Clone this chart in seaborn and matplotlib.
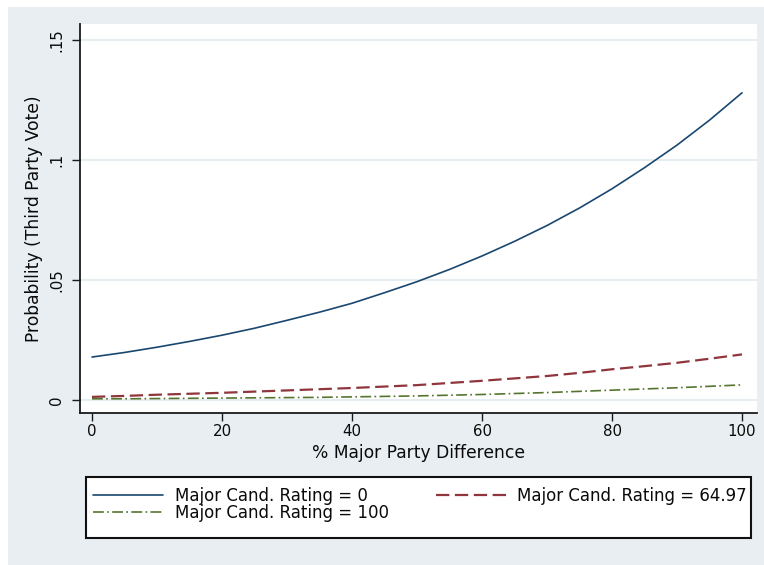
import matplotlib
matplotlib.use("Agg")
import matplotlib.pyplot as plt
from matplotlib.patches import Rectangle
import numpy as np
import pandas as pd
import seaborn as sns

# ---- data ----
major_party_diff = [0, 5, 10, 15, 20, 25, 30, 35, 40, 45, 50,
                    55, 60, 65, 70, 75, 80, 85, 90, 95, 100]
prob_rating_0 = [0.0179, 0.0198, 0.0220, 0.0244, 0.0270, 0.0299, 0.0332,
                 0.0366, 0.0403, 0.0447, 0.0493, 0.0544, 0.0600, 0.0661,
                 0.0727, 0.0800, 0.0880, 0.0968, 0.1062, 0.1166, 0.1280]
prob_rating_6497 = [0.0013, 0.0017, 0.0022, 0.0026, 0.0030, 0.0035, 0.0040,
                    0.0045, 0.0050, 0.0056, 0.0062, 0.0071, 0.0080, 0.0090,
                    0.0100, 0.0113, 0.0128, 0.0141, 0.0155, 0.0172, 0.0190]
prob_rating_100 = [0.0005, 0.0005, 0.0006, 0.0007, 0.0008, 0.0009, 0.0010,
                   0.0011, 0.0013, 0.0015, 0.0017, 0.0020, 0.0023, 0.0027,
                   0.0031, 0.0036, 0.0041, 0.0046, 0.0051, 0.0057, 0.0063]
series_labels = ["Major Cand. Rating = 0",
                 "Major Cand. Rating = 64.97",
                 "Major Cand. Rating = 100"]
x_ticks = [0, 20, 40, 60, 80, 100]
x_tick_labels = ["0", "20", "40", "60", "80", "100"]
y_ticks = [0, 0.05, 0.10, 0.15]
y_tick_labels = ["0", ".05", ".1", ".15"]
x_title = "% Major Party Difference"
y_title = "Probability (Third Party Vote)"

df = pd.DataFrame({
    "x": major_party_diff * 3,
    "y": prob_rating_0 + prob_rating_6497 + prob_rating_100,
    "series": [series_labels[0]] * len(major_party_diff)
              + [series_labels[1]] * len(major_party_diff)
              + [series_labels[2]] * len(major_party_diff),
})

# ---- style ----
sns.set_theme(style="white")
plt.rcParams["font.family"] = ["DejaVu Sans"]

W, H = 764, 565
fig = plt.figure(figsize=(W / 100, H / 100), dpi=100, facecolor="white")
bg = "#e8eef1"
fig.patches.append(Rectangle((8 / W, 0), 1 - 8 / W, 1 - 7 / H,
                             transform=fig.transFigure, facecolor=bg,
                             edgecolor="none", zorder=-10))

def fx(px):
    return px / W

def fy(py):
    return 1 - py / H

ax_l, ax_r, ax_t, ax_b = 80, 757, 24, 413
ax = fig.add_axes([fx(ax_l), fy(ax_b), (ax_r - ax_l) / W, (ax_b - ax_t) / H])
ax.set_facecolor("white")

colors = ["#1a476f", "#90353b", "#55752f"]
widths = [1.2, 1.6, 1.2]
dash_patterns = [None, [6, 2.5], [6.5, 2, 1, 2]]

for lab, col, lw, dp in zip(series_labels, colors, widths, dash_patterns):
    sub = df[df["series"] == lab]
    sns.lineplot(data=sub, x="x", y="y", color=col, linewidth=lw,
                 label=lab, ax=ax, zorder=3)
    line = ax.lines[-1]
    if dp is not None:
        line.set_dashes(dp)

# axes ranges: x px 92 -> 0, 6.5 px per unit; y px 400 -> 0, 2400 px per unit
ax.set_xlim((ax_l - 92) / 6.5, (ax_r - 92) / 6.5)
ax.set_ylim((400 - ax_b) / 2400, (400 - ax_t) / 2400)

ax.set_xticks(x_ticks)
ax.set_xticklabels(x_tick_labels)
ax.set_yticks(y_ticks)
ax.set_yticklabels(y_tick_labels, rotation=90, va="center", ha="center")

ax.grid(axis="y", color="#e4ecef", linewidth=1.3, zorder=0)
ax.grid(axis="x", visible=False)

for s in ["top", "right"]:
    ax.spines[s].set_visible(False)
for s in ["left", "bottom"]:
    ax.spines[s].set_color("#1a1a1a")
    ax.spines[s].set_linewidth(1.3)

ax.tick_params(axis="x", which="major", direction="out", length=6, width=1.0,
               color="#1a1a1a", labelsize=10.8, labelcolor="#0a0a0a", pad=2,
               bottom=True)
ax.tick_params(axis="y", which="major", direction="out", length=6, width=1.0,
               color="#1a1a1a", labelsize=10.8, labelcolor="#0a0a0a", pad=11,
               left=True)

ax.set_xlabel(x_title, fontsize=12.3, color="#0a0a0a", va="center")
ax.set_ylabel(y_title, fontsize=12.3, color="#0a0a0a", va="center")
ax.xaxis.set_label_coords(0.5, (ax_b - 453) / (ax_b - ax_t))
ax.yaxis.set_label_coords((34 - ax_l) / (ax_r - ax_l), 0.5)

# ---- legend ----
handles, labels = ax.get_legend_handles_labels()
ax.get_legend().remove()
order = [0, 2, 1]
fig.patches.append(Rectangle((fx(86), fy(538)), fx(751) - fx(86),
                             fy(477) - fy(538), transform=fig.transFigure,
                             facecolor="white", edgecolor="#111111",
                             linewidth=1.5, zorder=1))
leg = fig.legend([handles[i] for i in order], [labels[i] for i in order],
                 ncol=2, mode="expand", loc="upper left",
                 bbox_to_anchor=(fx(93), fy(487), fx(747) - fx(93), 0.0001),
                 frameon=False, fontsize=12, borderpad=0, borderaxespad=0,
                 handlelength=4.2, handletextpad=0.7, labelspacing=-0.05,
                 columnspacing=1.0)
for t in leg.get_texts():
    t.set_color("#0a0a0a")
leg.set_zorder(5)

fig.savefig("out.png", dpi=100, facecolor="white")
